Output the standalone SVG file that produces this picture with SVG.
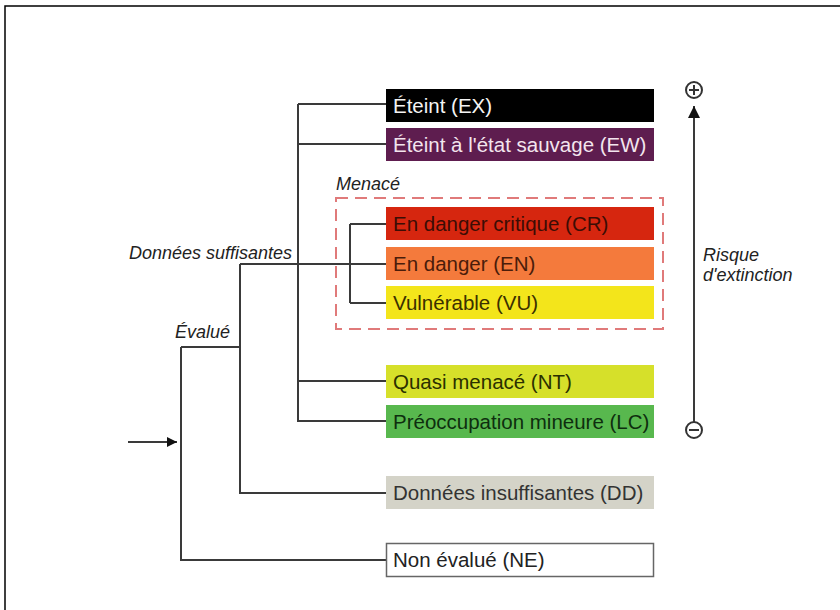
<svg xmlns="http://www.w3.org/2000/svg" width="840" height="610" viewBox="0 0 840 610">
<defs>
<style>
.box text{font-family:"Liberation Sans",Arial,sans-serif;font-size:20.5px}
.lbl{font-family:"Liberation Sans",Arial,sans-serif;font-size:18px;font-style:italic;fill:#222}
.ln{stroke:#3a3a3a;stroke-width:2;fill:none}
.sym{stroke:#333;stroke-width:2;fill:#fff}
</style>
<marker id="ah" viewBox="0 0 10 10" refX="10" refY="5" markerWidth="11" markerHeight="10" markerUnits="userSpaceOnUse" orient="auto">
<path d="M0,0 L10,5 L0,10 z" fill="#111"/>
</marker>
<marker id="ah2" viewBox="0 0 10 10" refX="10" refY="5" markerWidth="13" markerHeight="12" markerUnits="userSpaceOnUse" orient="auto">
<path d="M0,0 L10,5 L0,10 z" fill="#111"/>
</marker>
</defs>
<rect width="840" height="610" fill="#fff"/>
<path d="M5,610 V6 H840" stroke="#000" stroke-width="1.5" fill="none"/>

<g id="connectors">
<path class="ln" d="M298,104 V422 M298,104 H386 M298,144 H386 M298,381 H386 M298,421 H386"/>
<path class="ln" d="M240,264 H386 M350,224 V303 M350,224 H386 M350,303 H386"/>
<path class="ln" d="M240,264 V493 H386"/>
<path class="ln" d="M181,347 H240 M181,347 V560 H386"/>
<line class="ln" x1="128" y1="442" x2="177" y2="442" marker-end="url(#ah)"/>
<line class="ln" x1="694" y1="422" x2="694" y2="106" marker-end="url(#ah2)"/>
</g>

<g id="menace">
<rect x="336" y="198" width="327" height="131" fill="none" stroke="#e07a7a" stroke-width="2" stroke-dasharray="12 7"/>
<text class="lbl" x="336" y="190">Menacé</text>
</g>

<g id="EX" class="box"><rect x="386" y="89" width="268" height="33" fill="#000"/><text x="393" y="113" fill="#f4f4f4">Éteint (EX)</text></g>
<g id="EW" class="box"><rect x="386" y="128" width="268" height="33" fill="#5e1d4f"/><text x="393" y="152" fill="#f3e5ee">Éteint à l'état sauvage (EW)</text></g>
<g id="CR" class="box"><rect x="386" y="207" width="268" height="33" fill="#d6260f"/><text x="393" y="231" fill="#3c0d05">En danger critique (CR)</text></g>
<g id="EN" class="box"><rect x="386" y="247" width="268" height="33" fill="#f47a3c"/><text x="393" y="271" fill="#4a1c0a">En danger (EN)</text></g>
<g id="VU" class="box"><rect x="386" y="286" width="268" height="33" fill="#f3e51b"/><text x="393" y="310" fill="#3b3000">Vulnérable (VU)</text></g>
<g id="NT" class="box"><rect x="386" y="365" width="268" height="33" fill="#d6e02a"/><text x="393" y="389" fill="#2b3000">Quasi menacé (NT)</text></g>
<g id="LC" class="box"><rect x="386" y="405" width="268" height="33" fill="#58b84e"/><text x="393" y="429" fill="#0e2e0e">Préoccupation mineure (LC)</text></g>
<g id="DD" class="box"><rect x="386" y="476" width="268" height="33" fill="#d4d3c8"/><text x="393" y="500" fill="#333">Données insuffisantes (DD)</text></g>
<g id="NE" class="box"><rect x="386.5" y="543.5" width="267" height="33" fill="#fff" stroke="#666" stroke-width="1.5"/><text x="393" y="567" fill="#222">Non évalué (NE)</text></g>

<g id="labels">
<text class="lbl" x="292" y="259" text-anchor="end">Données suffisantes</text>
<text class="lbl" x="175" y="338">Évalué</text>
<text class="lbl" x="703" y="261">Risque</text>
<text class="lbl" x="703" y="281">d'extinction</text>
</g>

<g id="plus">
<circle class="sym" cx="694" cy="90" r="8"/>
<path d="M689,90 H699 M694,85 V95" stroke="#333" stroke-width="2"/>
</g>
<g id="minus">
<circle class="sym" cx="694" cy="430" r="8"/>
<path d="M689,430 H699" stroke="#333" stroke-width="2"/>
</g>
</svg>
